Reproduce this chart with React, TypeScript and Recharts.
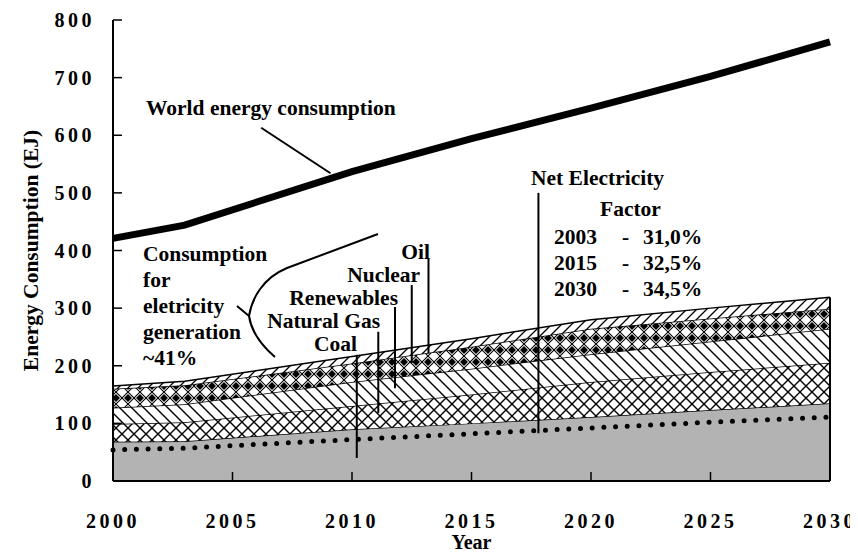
import { ComposedChart, Area, Line, XAxis, YAxis, ReferenceLine } from 'recharts'

const years = [2000, 2003, 2010, 2015, 2020, 2025, 2030]
const worldConsumption = [421, 444, 537, 594, 647, 702, 762]
const netElectricity = [54, 57, 72, 82, 92, 102, 111]
const coal = [68, 69, 90, 100, 111, 123, 135]
const naturalGas = [31, 33, 40, 50, 61, 66, 70]
const renewables = [28, 31, 42, 45, 48, 53, 59]
const nuclear = [33, 33, 32, 38, 44, 40, 35]
const oil = [5, 7, 12, 14, 16, 18, 20]

const xTicks = [2000, 2005, 2010, 2015, 2020, 2025, 2030]
const yTicks = [0, 100, 200, 300, 400, 500, 600, 700, 800]

const factorRows = [
  { year: '2003', value: '31,0%' },
  { year: '2015', value: '32,5%' },
  { year: '2030', value: '34,5%' },
]

const data = years.map((year, i) => ({
  year,
  world: worldConsumption[i],
  net: netElectricity[i],
  coal: coal[i],
  gas: naturalGas[i],
  renewables: renewables[i],
  nuclear: nuclear[i],
  oil: oil[i],
}))

const last = data.length - 1
const stackTop = coal[last] + naturalGas[last] + renewables[last] + nuclear[last] + oil[last]

const FONT = '"Liberation Serif", "Times New Roman", serif'
const tickStyle = { fill: '#000', fontSize: 20, fontWeight: 'bold', fontFamily: FONT, letterSpacing: 3.5 }

// leader lines, in data coordinates
const leaders = [
  { x: 2013.2, y1: 387, y2: 222 }, // Oil
  { x: 2012.5, y1: 340, y2: 205 }, // Nuclear
  { x: 2011.8, y1: 302, y2: 161 }, // Renewables
  { x: 2011.1, y1: 259, y2: 118 }, // Natural Gas
  { x: 2010.2, y1: 219, y2: 40 },  // Coal
  { x: 2017.8, y1: 500, y2: 83 },  // Net electricity
]

const textStyle = { fontFamily: FONT, fontSize: 21.5, fontWeight: 'bold', fill: '#000' } as const

export default function App() {
  return (
    <div style={{ position: 'relative', width: 850, height: 548, fontFamily: FONT, background: '#fff' }}>
      <ComposedChart width={850} height={548} data={data} margin={{ top: 12, right: 28, left: 0, bottom: 15 }}>
        <defs>
          <pattern id="gasHatch" width="12" height="12" patternUnits="userSpaceOnUse">
            <rect width="12" height="12" fill="#fff" />
            <path d="M0,0 L12,12 M12,0 L0,12" stroke="#000" strokeWidth="1.4" />
          </pattern>
          <pattern id="renewHatch" width="12" height="12" patternUnits="userSpaceOnUse">
            <rect width="12" height="12" fill="#fff" />
            <path d="M0,0 L12,12 M-6,6 L6,18 M6,-6 L18,6" stroke="#000" strokeWidth="1.4" />
          </pattern>
          <pattern id="nuclearHatch" width="12" height="12" patternUnits="userSpaceOnUse">
            <rect width="12" height="12" fill="#fff" />
            <path d="M0,0 L12,12 M12,0 L0,12" stroke="#000" strokeWidth="1.1" />
            <path d="M0,2 L4,6 L0,10 Z M12,2 L8,6 L12,10 Z" fill="#000" />
          </pattern>
          <pattern id="oilHatch" width="10" height="10" patternUnits="userSpaceOnUse">
            <rect width="10" height="10" fill="#fff" />
            <path d="M0,10 L10,0 M-5,5 L5,-5 M5,15 L15,5" stroke="#000" strokeWidth="1.3" />
          </pattern>
        </defs>
        <XAxis
          dataKey="year"
          type="number"
          domain={[2000, 2030]}
          ticks={xTicks}
          tickSize={-9}
          tickMargin={42}
          tick={tickStyle}
          axisLine={{ stroke: '#000', strokeWidth: 2 }}
          tickLine={{ stroke: '#000', strokeWidth: 1.5 }}
          height={60}
          label={{ value: 'Year', position: 'insideBottom', offset: -8, style: { ...textStyle, fontSize: 20 } }}
        />
        <YAxis
          type="number"
          domain={[0, 800]}
          ticks={yTicks}
          tickSize={-9}
          tickMargin={27}
          tick={tickStyle}
          axisLine={{ stroke: '#000', strokeWidth: 2 }}
          tickLine={{ stroke: '#000', strokeWidth: 1.5 }}
          width={105}
          label={{
            value: 'Energy Consumption (EJ)',
            angle: -90,
            position: 'center',
            dx: -30,
            style: { ...textStyle, fontSize: 21.5, textAnchor: 'middle' },
          }}
        />
        <Area type="linear" dataKey="coal" stackId="e" fill="#b3b3b3" fillOpacity={1} stroke="#000" strokeWidth={1.5} isAnimationActive={false} />
        <Area type="linear" dataKey="gas" stackId="e" fill="url(#gasHatch)" fillOpacity={1} stroke="#000" strokeWidth={1.5} isAnimationActive={false} />
        <Area type="linear" dataKey="renewables" stackId="e" fill="url(#renewHatch)" fillOpacity={1} stroke="#000" strokeWidth={1.5} isAnimationActive={false} />
        <Area type="linear" dataKey="nuclear" stackId="e" fill="url(#nuclearHatch)" fillOpacity={1} stroke="#000" strokeWidth={1.5} isAnimationActive={false} />
        <Area type="linear" dataKey="oil" stackId="e" fill="url(#oilHatch)" fillOpacity={1} stroke="#000" strokeWidth={1.5} isAnimationActive={false} />
        <Line type="linear" dataKey="net" stroke="#000" strokeWidth={5} strokeLinecap="round" strokeDasharray="0 11.7" dot={false} isAnimationActive={false} />
        <Line type="linear" dataKey="world" stroke="#000" strokeWidth={7} dot={false} isAnimationActive={false} />
        <ReferenceLine segment={[{ x: 2030, y: 0 }, { x: 2030, y: stackTop }]} stroke="#000" strokeWidth={2} />
        {leaders.map((l, i) => (
          <ReferenceLine key={i} segment={[{ x: l.x, y: l.y1 }, { x: l.x, y: l.y2 }]} stroke="#000" strokeWidth={2} />
        ))}
        <ReferenceLine segment={[{ x: 2006.2, y: 613 }, { x: 2009.1, y: 534 }]} stroke="#000" strokeWidth={2} />
      </ComposedChart>

      <svg width={850} height={548} style={{ position: 'absolute', left: 0, top: 0, pointerEvents: 'none' }}>
        <text x={138} y={107} {...textStyle}>World energy consumption</text>

        <text x={135} y={253} {...textStyle}>Consumption</text>
        <text x={135} y={279} {...textStyle}>for</text>
        <text x={135} y={305} {...textStyle}>eletricity</text>
        <text x={135} y={331} {...textStyle}>generation</text>
        <text x={135} y={357} {...textStyle}>~41%</text>
        <path d="M229,298 L241,308 M241,308 C244,290 255,270 279,260 L370,226 M241,308 C243,322 252,336 267,349" fill="none" stroke="#000" strokeWidth={2} />

        <text x={422} y={251} textAnchor="end" {...textStyle}>Oil</text>
        <text x={412} y={274} textAnchor="end" {...textStyle}>Nuclear</text>
        <text x={390} y={297} textAnchor="end" {...textStyle}>Renewables</text>
        <text x={372} y={320} textAnchor="end" {...textStyle}>Natural Gas</text>
        <text x={349} y={343} textAnchor="end" {...textStyle}>Coal</text>

        <text x={523} y={177} {...textStyle}>Net Electricity</text>
        <text x={592} y={208} {...textStyle}>Factor</text>
        {factorRows.map((r, i) => (
          <g key={r.year}>
            <text x={546} y={236 + i * 26} {...textStyle}>{r.year}</text>
            <text x={614} y={236 + i * 26} {...textStyle}>-</text>
            <text x={635} y={236 + i * 26} {...textStyle}>{r.value}</text>
          </g>
        ))}
      </svg>
    </div>
  )
}
